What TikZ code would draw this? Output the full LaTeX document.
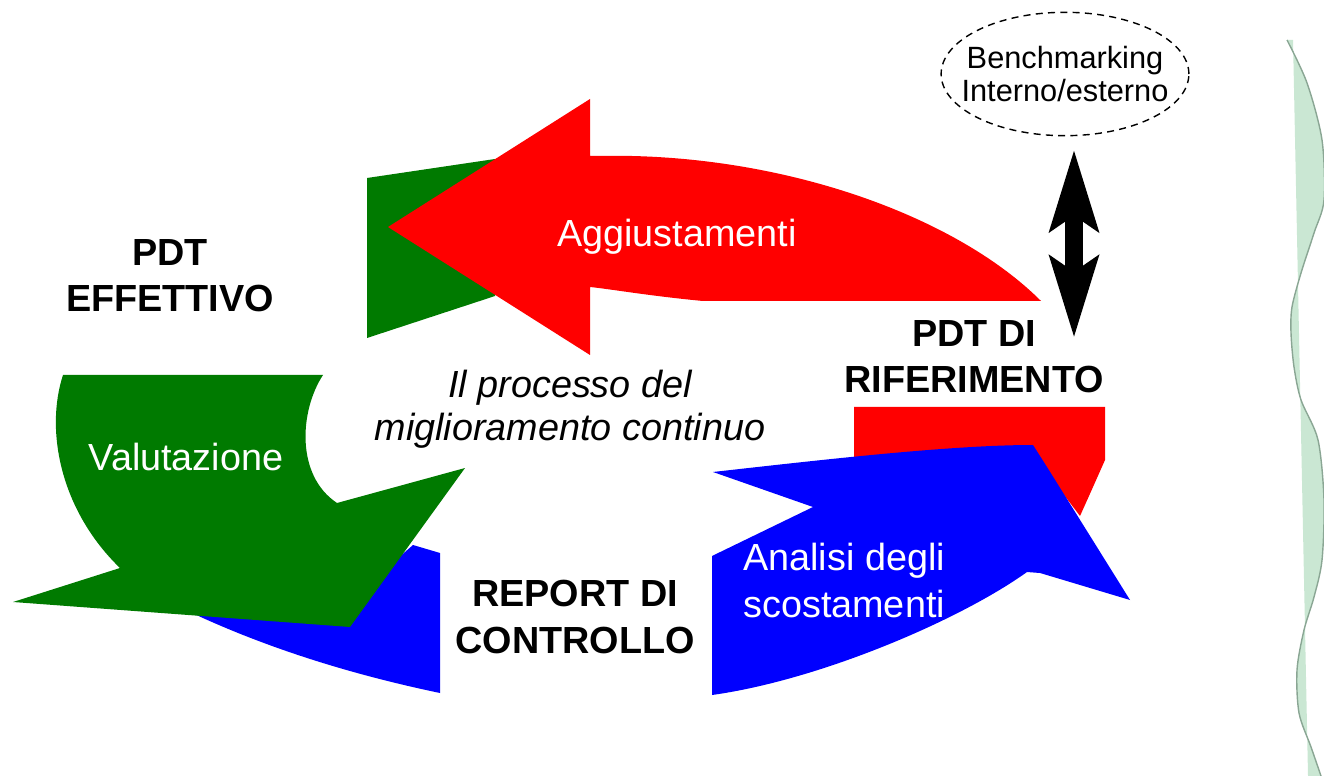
\documentclass[tikz,border=0pt]{standalone}
\usepackage{fontspec}
\setmainfont{Liberation Sans}
\usetikzlibrary{arrows.meta,shapes.geometric}
\definecolor{cyclered}{RGB}{255,0,0}
\definecolor{cyclegreen}{RGB}{0,122,0}
\definecolor{cycleblue}{RGB}{0,0,255}
\definecolor{wavefill}{RGB}{202,231,211}
\definecolor{waveline}{RGB}{138,166,148}
\tikzset{
    phase/.style={font=\fontsize{21.5}{26.5}\selectfont\bfseries, align=center, inner sep=0pt},
    action/.style={font=\fontsize{21.5}{26.5}\selectfont, text=white, inner sep=0pt},
    dblarrow/.style={line width=10pt, {Stealth[length=46pt,width=27pt,inset=8.5pt]}-{Stealth[length=46pt,width=27pt,inset=8.5pt]}},
}
\begin{document}
\begin{tikzpicture}[x=0.02cm, y=-0.02cm]
            \useasboundingbox (0,0) rectangle (1324,776);
            % onda a destra
            \fill[wavefill] plot[smooth] coordinates {(1287,40) (1307,83) (1322,140) (1324,200) (1314,233) (1301,273) (1292,307) (1291,333) (1294,367) (1301,400) (1318,440) (1324,500) (1322,560) (1314,597) (1304,630) (1297,670) (1299,713) (1311,747) (1321,776)}
                -- (1308,776) -- (1293,40) -- cycle;
            \draw[waveline, line width=0.8pt] plot[smooth] coordinates {(1287,40) (1307,83) (1322,140) (1324,200) (1314,233) (1301,273) (1292,307) (1291,333) (1294,367) (1301,400) (1318,440) (1324,500) (1322,560) (1314,597) (1304,630) (1297,670) (1299,713) (1311,747) (1321,776)};
            \begin{scope}
                \fill[cycleblue] (192,613) -- (350,600) -- (413,545) -- (440,553) -- (440,693)
                    .. controls (330,670) and (250,640) .. (192,613) -- cycle;
                \fill[cyclegreen] (63,375) -- (323,375) .. controls (300,410) and (295,475) .. (337,503)
                    -- (465,468) -- (350,627) -- (13,602) -- (120,568)
                    .. controls (60,510) and (45,430) .. (63,375) -- cycle;
                \fill[cyclegreen] (367,178) -- (495,159) -- (505,230) -- (495,296) -- (367,338) -- cycle;
            \end{scope}
            \begin{scope}
                \fill[cyclered] (388,227) -- (590,99) -- (590,156) -- (632,156)
                    .. controls (800,160) and (960,220) .. (1041,301) -- (703,301)
                    .. controls (650,296) and (610,289) .. (590,287) -- (590,355) -- cycle;
                \fill[cyclered] (854,407) -- (1105,407) -- (1105,460) -- (1093,487) -- (1080,516)
                    -- (1045,470) -- (854,470) -- cycle;
                \fill[cycleblue] (713,472) .. controls (820,460) and (950,445) .. (1033,445)
                    -- (1047,467) -- (1130,600) -- (1040,573) -- (1027,572)
                    .. controls (960,620) and (820,680) .. (712,695) -- (712,556) -- (813,507) -- cycle;
            \end{scope}
            \node[phase, anchor=north] (effettivo) at (170,239) {PDT\\EFFETTIVO};
            \node[phase, anchor=north] (riferimento) at (974,320) {PDT DI\\RIFERIMENTO};
            \node[phase, anchor=north] (report) at (575,580) {REPORT DI\\CONTROLLO};
            \node[action, anchor=base] (aggiust) at (677,247) {Aggiustamenti};
            \node[action, anchor=base] (valut) at (186,470) {Valutazione};
            \node[action, anchor=north west, align=left] (analisi) at (743,543) {Analisi degli\\scostamenti};
            \node[inner sep=0pt, anchor=north, align=center, font=\fontsize{21.5}{24.5}\selectfont\itshape] (processo) at (570,370) {Il processo del\\miglioramento continuo};
            \node[draw, dashed, dash pattern=on 4pt off 3pt, line width=0.8pt, ellipse, inner xsep=-9pt, inner ysep=9pt, align=center, font=\fontsize{17.5}{18.8}\selectfont] (bench) at (1065,74) {Benchmarking\\Interno/esterno};
            \coordinate (refmark) at (1074,338);
            \draw[dblarrow, shorten <=7.4pt] (bench.south -| refmark) -- (refmark);
\end{tikzpicture}
\end{document}
